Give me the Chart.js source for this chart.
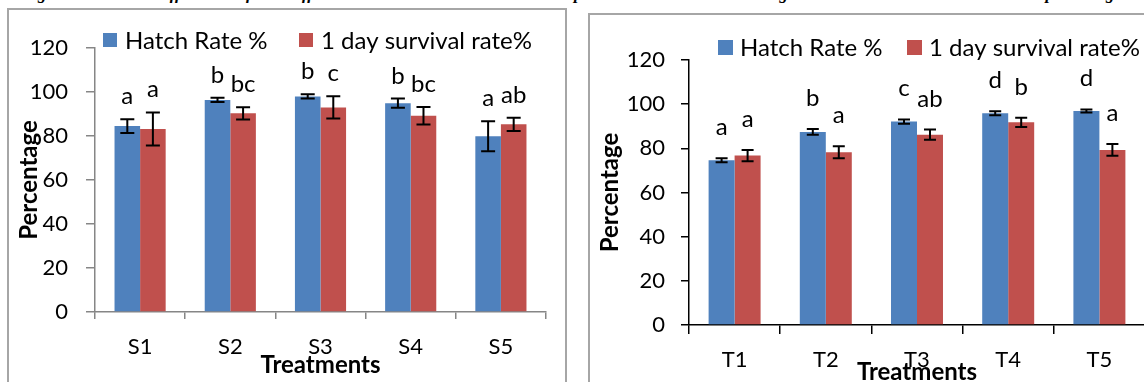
<!DOCTYPE html>
<html>
<head>
<meta charset="utf-8">
<script src="https://cdn.jsdelivr.net/npm/chart.js@4.4.1/dist/chart.umd.min.js"></script>
<style>
  html, body { margin: 0; padding: 0; background: #fff; width: 1144px; height: 382px; overflow: hidden; position: relative; }
  #caption { position: absolute; left: 22px; width: 1100px; top: -16px; font: italic bold 17px "Liberation Serif", serif; line-height: 20px; text-align: justify; text-align-last: justify; white-space: nowrap; color: #000; }
  .box { position: absolute; border: 2px solid #a6a6a6; box-sizing: border-box; }
  canvas { position: absolute; }
</style>
</head>
<body>
<div id="caption">Figure 4: Effect of different salinities and temperature on hatching and survival rate percentage</div>
<div class="box" style="left:7px; top:8px; width:560px; height:400px;"></div>
<div class="box" style="left:588px; top:13px; width:600px; height:400px;"></div>
<canvas id="left" width="570" height="400" style="left:0; top:0;"></canvas>
<canvas id="right" width="600" height="400" style="left:589px; top:0;"></canvas>
<script>
// ---------- data ----------
const seriesNames = ['Hatch Rate %', '1 day survival rate%'];
const yTickValues = [0, 20, 40, 60, 80, 100, 120];

const salinityCategories = ['S1', 'S2', 'S3', 'S4', 'S5'];
const salinityHatch = [84.5, 96.4, 98.0, 94.9, 79.9];
const salinityHatchErr = [3.1, 1.0, 1.0, 2.1, 6.8];
const salinitySurvival = [83.2, 90.3, 93.0, 89.2, 85.3];
const salinitySurvivalErr = [7.5, 2.8, 5.1, 4.0, 3.0];
const salinityHatchLetters = ['a', 'b', 'b', 'b', 'a'];
const salinitySurvivalLetters = ['a', 'bc', 'c', 'bc', 'ab'];

const tempCategories = ['T1', 'T2', 'T3', 'T4', 'T5'];
const tempHatch = [74.6, 87.4, 92.1, 95.9, 96.9];
const tempHatchErr = [0.9, 1.3, 1.0, 0.9, 0.7];
const tempSurvival = [76.7, 78.2, 86.2, 91.8, 79.3];
const tempSurvivalErr = [2.5, 2.7, 2.3, 2.1, 2.7];
const tempHatchLetters = ['a', 'b', 'c', 'd', 'd'];
const tempSurvivalLetters = ['a', 'a', 'ab', 'b', 'a'];

// ---------- styles ----------
const BLUE = '#4F81BD';
const RED = '#C0504D';
const FONT = 'Lato, "Open Sans", sans-serif';

const annotPlugin = {
  id: 'annot',
  afterDatasetsDraw(chart, args, o) {
    const ctx = chart.ctx;
    const ys = chart.scales.y;
    chart.data.datasets.forEach((ds, di) => {
      const meta = chart.getDatasetMeta(di);
      meta.data.forEach((bar, i) => {
        const v = ds.data[i], e = ds.errors[i];
        const yt = ys.getPixelForValue(v + e);
        const yb = ys.getPixelForValue(v - e);
        const x = bar.x;
        ctx.save();
        ctx.strokeStyle = '#000';
        ctx.lineWidth = o.errWidth;
        ctx.beginPath();
        ctx.moveTo(x, yt); ctx.lineTo(x, yb);
        ctx.moveTo(x - o.cap, yt); ctx.lineTo(x + o.cap, yt);
        ctx.moveTo(x - o.cap, yb); ctx.lineTo(x + o.cap, yb);
        ctx.stroke();
        ctx.fillStyle = '#000';
        ctx.font = o.letterFont;
        ctx.textAlign = 'center';
        ctx.textBaseline = 'alphabetic';
        ctx.fillText(ds.letters[i], x, yt - o.letterGap);
        ctx.restore();
      });
    });
    // legend
    ctx.save();
    ctx.font = o.legendFont;
    ctx.textBaseline = 'middle';
    ctx.textAlign = 'left';
    chart.data.datasets.forEach((ds, di) => {
      const bx = o.legendX[di];
      ctx.fillStyle = ds.backgroundColor;
      ctx.fillRect(bx, o.legendY - o.box / 2, o.box, o.box);
      ctx.fillStyle = '#000';
      ctx.fillText(ds.label, bx + o.box + o.textGap, o.legendY + 1);
    });
    ctx.restore();
  }
};

function makeChart(id, cats, hatch, hatchErr, hatchL, surv, survErr, survL, L) {
  return new Chart(document.getElementById(id), {
    type: 'bar',
    data: {
      labels: cats,
      datasets: [
        { label: seriesNames[0], data: hatch, errors: hatchErr, letters: hatchL, backgroundColor: BLUE, borderWidth: 0 },
        { label: seriesNames[1], data: surv, errors: survErr, letters: survL, backgroundColor: RED, borderWidth: 0 }
      ]
    },
    options: {
      responsive: false,
      animation: false,
      devicePixelRatio: 1,
      layout: { padding: { left: 0, top: L.top, right: L.right, bottom: 0 } },
      datasets: { bar: { categoryPercentage: L.catPct, barPercentage: 1 } },
      plugins: {
        legend: { display: false },
        tooltip: { enabled: false },
        annot: L.annot
      },
      scales: {
        x: {
          grid: { display: true, offset: true, drawOnChartArea: false, drawTicks: true, tickLength: L.xTick, color: L.axisColor, lineWidth: 1.5 },
          border: { display: true, color: L.axisColor, width: 1.5 },
          ticks: { color: '#000', font: { family: FONT, size: L.tickSize }, padding: L.xPad, maxRotation: 0 },
          title: { display: true, text: 'Treatments', color: '#000', font: { family: FONT, size: L.titleSize, weight: 'bold' }, padding: { top: 0, bottom: L.xTitlePad } },
          afterFit(s) { s.height = L.xHeight; }
        },
        y: {
          min: 0, max: 120,
          afterBuildTicks(s) { s.ticks = yTickValues.map(v => ({ value: v })); },
          grid: { display: true, drawOnChartArea: false, drawTicks: true, tickLength: L.yTick, color: L.axisColor, lineWidth: 1.5 },
          border: { display: true, color: L.axisColor, width: 1.5 },
          ticks: { color: '#000', font: { family: FONT, size: L.tickSize }, padding: L.yPad },
          title: { display: true, text: 'Percentage', color: '#000', font: { family: FONT, size: L.titleSize, weight: 'bold' }, padding: { top: L.yTitlePad, bottom: 0 } },
          afterFit(s) { s.width = L.yWidth; }
        }
      }
    },
    plugins: [annotPlugin]
  });
}

makeChart('left', salinityCategories, salinityHatch, salinityHatchErr, salinityHatchLetters,
  salinitySurvival, salinitySurvivalErr, salinitySurvivalLetters, {
    top: 48, right: 24, catPct: 0.567, axisColor: '#868686',
    xTick: 7, yTick: 9, tickSize: 22, titleSize: 24, xPad: 14.8, yPad: 18,
    xHeight: 88, yWidth: 95, xTitlePad: 20.6, yTitlePad: 14.6,
    annot: { errWidth: 2, cap: 7, letterFont: '24px ' + FONT, letterGap: 15,
      legendFont: '24px ' + FONT, legendX: [103, 299], legendY: 40, box: 14, textGap: 8 }
  });

makeChart('right', tempCategories, tempHatch, tempHatchErr, tempHatchLetters,
  tempSurvival, tempSurvivalErr, tempSurvivalLetters, {
    top: 60, right: 44, catPct: 0.57, axisColor: '#000',
    xTick: 9, yTick: 8, tickSize: 22, titleSize: 24, xPad: 12.8, yPad: 16,
    xHeight: 75, yWidth: 100, xTitlePad: 13.6, yTitlePad: 6.6,
    annot: { errWidth: 2, cap: 6, letterFont: '24px ' + FONT, letterGap: 23,
      legendFont: '24px ' + FONT, legendX: [129, 318], legendY: 47.5, box: 15, textGap: 7 }
  });
</script>
</body>
</html>
